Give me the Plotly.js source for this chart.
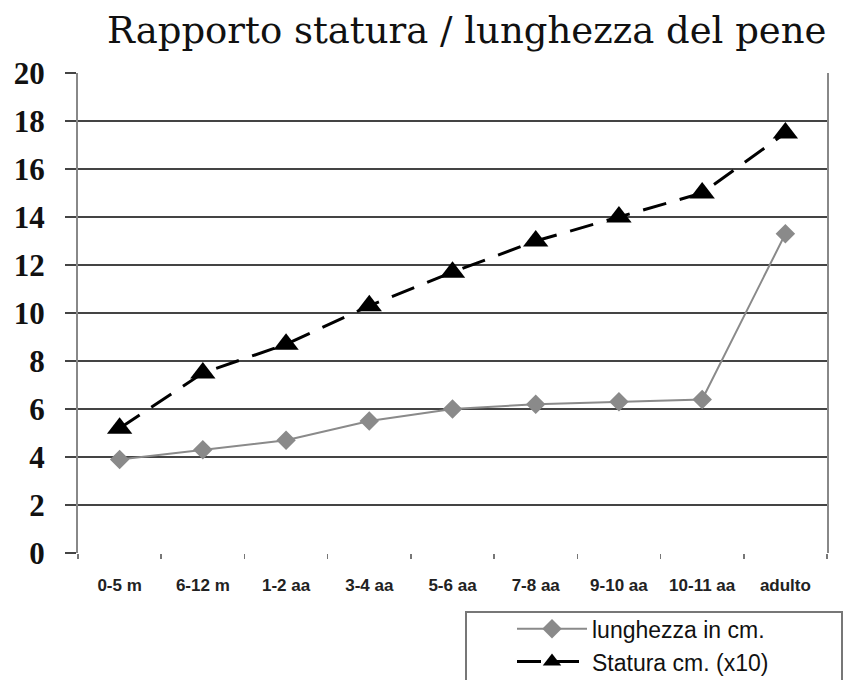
<!DOCTYPE html>
<html>
<head>
<meta charset="utf-8">
<script src="https://cdn.plot.ly/plotly-3.0.1.min.js"></script>
<style>html,body{margin:0;padding:0;background:#fff;}#chart{width:844px;height:680px;}</style>
</head>
<body>
<div id="chart"></div>
<script>
const categories = ["0-5 m", "6-12 m", "1-2 aa", "3-4 aa", "5-6 aa", "7-8 aa", "9-10 aa", "10-11 aa", "adulto"];
const lunghezza = [3.9, 4.3, 4.7, 5.5, 6.0, 6.2, 6.3, 6.4, 13.3];
const statura = [5.2, 7.5, 8.7, 10.3, 11.7, 13.0, 14.0, 15.0, 17.5];
const yTicks = [0, 2, 4, 6, 8, 10, 12, 14, 16, 18, 20];

const traces = [
  {
    x: categories, y: lunghezza, name: "lunghezza in cm.",
    type: "scatter", mode: "lines+markers",
    line: {color: "#8a8a8a", width: 2},
    marker: {symbol: "diamond", size: 15, color: "#8a8a8a"}
  },
  {
    x: categories, y: statura, name: "Statura cm. (x10)",
    type: "scatter", mode: "lines+markers",
    line: {color: "#000", width: 3, dash: "24px,14px"},
    marker: {symbol: "triangle-up", size: 22, color: "#000"}
  }
];

const layout = {
  width: 844, height: 680,
  paper_bgcolor: "#fff", plot_bgcolor: "#fff",
  margin: {l: 78, r: 17, t: 73, b: 127, autoexpand: false},
  title: {
    text: "Rapporto statura / lunghezza del pene",
    font: {family: "DejaVu Serif, serif", size: 37, color: "#111"},
    x: 0.553, xanchor: "center", y: 0.975, yanchor: "top"
  },
  showlegend: true,
  legend: {
    x: (512 - 78) / 749, xanchor: "left", y: -0.113, yanchor: "top",
    borderwidth: 0, bgcolor: "rgba(0,0,0,0)",
    font: {family: "Liberation Sans, Arial, sans-serif", size: 23, color: "#111"},
    itemwidth: 70, tracegroupgap: 0
  },
  shapes: [
    {type: "rect", xref: "paper", yref: "paper",
     x0: (466 - 78) / 749, x1: (842 - 78) / 749, y0: -0.123, y1: -0.30,
     line: {color: "#777", width: 2}, fillcolor: "rgba(0,0,0,0)", layer: "below"}
  ],
  xaxis: {
    type: "category", range: [-0.5, 8.5],
    showgrid: false, zeroline: false,
    showline: false,
    ticks: "outside", tickson: "boundaries", ticklen: 5, tickcolor: "#777", tickwidth: 1.5,
    ticklabelstandoff: 20,
    tickfont: {family: "Liberation Sans, Arial, sans-serif", size: 17, color: "#222", weight: "bold"},
    fixedrange: true
  },
  yaxis: {
    range: [0, 20], tickvals: yTicks, ticktext: yTicks.map(String),
    showgrid: true, gridcolor: "#444", gridwidth: 2,
    zeroline: false,
    showline: true, mirror: true, linecolor: "#888", linewidth: 2,
    ticks: "outside", ticklen: 11, tickcolor: "#444", tickwidth: 2,
    ticklabelstandoff: 14,
    tickfont: {family: "Liberation Serif, Times New Roman, serif", size: 31, color: "#111", weight: "bold"},
    fixedrange: true
  }
};

Plotly.newPlot("chart", traces, layout, {staticPlot: true, displayModeBar: false});
</script>
</body>
</html>
